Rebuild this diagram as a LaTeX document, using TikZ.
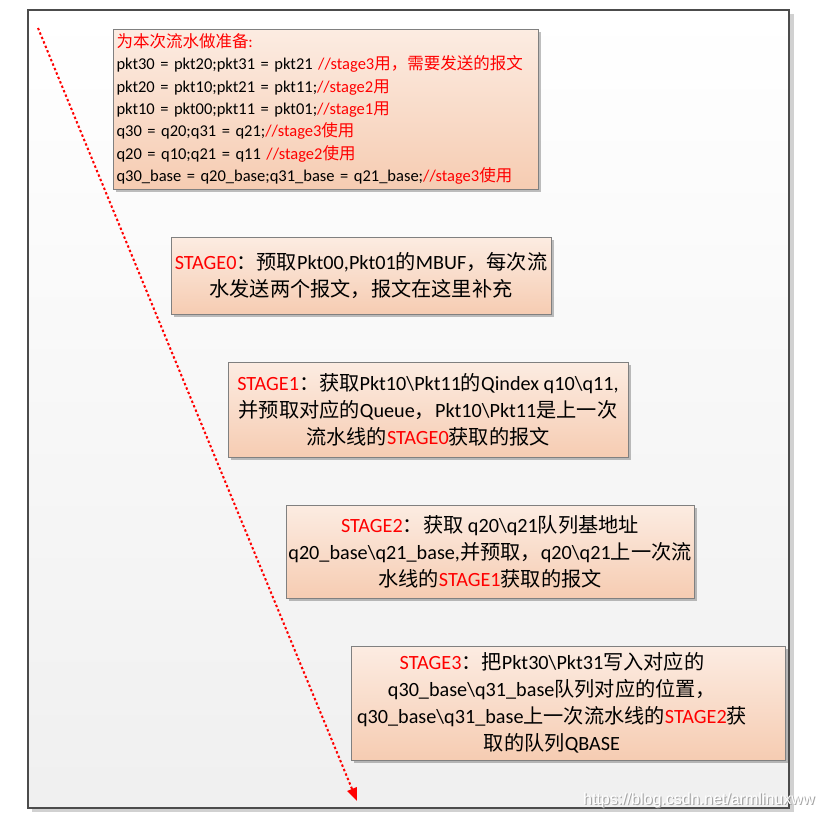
\documentclass[tikz,border=0pt]{standalone}
\usepackage{fontspec}
\setmainfont{Carlito}
\newfontfamily\cjk{Noto Sans CJK SC}
\newfontfamily\wmfont{Liberation Sans}
\usetikzlibrary{arrows.meta,shadows}
\newcommand\zh[1]{{\cjk #1}}
\newcommand\R[1]{{\color{red}#1}}
\definecolor{boxtop}{RGB}{252,236,226}
\definecolor{boxbot}{RGB}{246,204,178}
\definecolor{boxedge}{RGB}{128,128,128}
\begin{document}
\begin{tikzpicture}[x=1pt,y=-1pt,
  card/.style={draw=boxedge, line width=0.9pt, top color=boxtop, bottom color=boxbot,
    drop shadow={shadow xshift=2.5pt, shadow yshift=-2.5pt, opacity=0.25, fill=black},
    inner sep=0pt},
  prep/.style={card, font=\fontsize{16.5}{22.4}\selectfont, align=left},
  stagefont/.style={font=\fontsize{20.2}{27}\selectfont, align=center},
  stage/.style={card, stagefont},
  flow/.style={red, line width=2pt, dash pattern=on 2.4pt off 2.4pt,
    -{Triangle[length=13pt,width=10pt]}}
]
\useasboundingbox (0,0) rectangle (823,819);
% frame
\fill[black!18] (32,14) rectangle (794,812);
\shade[top color=white, bottom color=black!6, draw=black!70, line width=1.3pt] (28,10) rectangle (789,808);

% boxes
\node[prep, minimum width=425, minimum height=160, text width=418] (prep) at (325.5,109) {%
\R{\zh{为本次流水做准备}:}\\
pkt30 = pkt20;pkt31 = pkt21 \R{//stage3\zh{用，需要发送的报文}}\\
pkt20 = pkt10;pkt21 = pkt11;\R{//stage2\zh{用}}\\
pkt10 = pkt00;pkt11 = pkt01;\R{//stage1\zh{用}}\\
q30 = q20;q31 = q21;\R{//stage3\zh{使用}}\\
q20 = q10;q21 = q11 \R{//stage2\zh{使用}}\\
q30\_base = q20\_base;q31\_base = q21\_base;\R{//stage3\zh{使用}}};

\node[stage, minimum width=380, minimum height=77] (s0) at (361,275.5) {%
\R{STAGE0}\zh{：预取}Pkt00,Pkt01\zh{的}MBUF\zh{，每次流}\\
\zh{水发送两个报文，报文在这里补充}};

\node[stage, minimum width=400, minimum height=95] (s1) at (428,409.5) {%
\R{STAGE1}\zh{：获取}Pkt10\textbackslash Pkt11\zh{的}Qindex q10\textbackslash q11,\\
\zh{并预取对应的}Queue\zh{，}Pkt10\textbackslash Pkt11\zh{是上一次}\\
\zh{流水线的}\R{STAGE0}\zh{获取的报文}};

\node[stage, minimum width=408, minimum height=93] (s2) at (490,551.5) {%
\R{STAGE2}\zh{：获取} q20\textbackslash q21\zh{队列基地址}\\
q20\_base\textbackslash q21\_base,\zh{并预取，}q20\textbackslash q21\zh{上一次流}\\
\zh{水线的}\R{STAGE1}\zh{获取的报文}};

\node[card, minimum width=434, minimum height=114] (s3) at (568,703) {};
\node[stagefont, inner sep=0pt] (s3text) at (552,703) {%
\R{STAGE3}\zh{：把}Pkt30\textbackslash Pkt31\zh{写入对应的}\\
q30\_base\textbackslash q31\_base\zh{队列对应的位置，}\\
q30\_base\textbackslash q31\_base\zh{上一次流水线的}\R{STAGE2}\zh{获}\\
\zh{取的队列}QBASE};

% time arrow
\coordinate (tstart) at (38,28);
\coordinate (tend) at (357,801);
\draw[flow] (tstart) -- (tend);

% watermark
\node[font=\wmfont\fontsize{16}{18}\selectfont, text=black!35, anchor=west, inner sep=0] (wms) at (584.2,801.2) {https://blog.csdn.net/armlinuxww};
\node[font=\wmfont\fontsize{16}{18}\selectfont, text=white, anchor=west, inner sep=0] (wm) at (583,800) {https://blog.csdn.net/armlinuxww};
\end{tikzpicture}
\end{document}
